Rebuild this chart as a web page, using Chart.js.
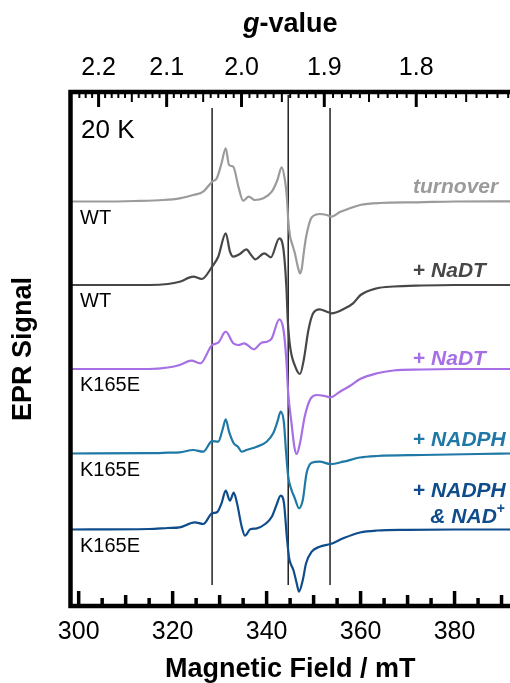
<!DOCTYPE html>
<html>
<head>
<meta charset="utf-8">
<title>EPR spectra, 20 K</title>
<script src="https://cdn.jsdelivr.net/npm/chart.js@4.4.1/dist/chart.umd.min.js"></script>
<style>
  html, body { margin: 0; padding: 0; background: #fff; }
  canvas { display: block; }
</style>
</head>
<body>
<canvas id="eprChart" width="510" height="683"></canvas>
<script>
// axes
const fieldTicks = [300, 320, 340, 360, 380];
const gTicks = [2.2, 2.1, 2.0, 1.9, 1.8];
const mwFreq = 9.368; // GHz
const markerFields = [328.4, 344.6, 353.5];

// samples, stacked top to bottom
const sampleNames = ['WT', 'WT', 'K165E', 'K165E', 'K165E'];
const conditions = [['turnover'], ['+ NaDT'], ['+ NaDT'], ['+ NADPH'], ['+ NADPH', '& NAD⁺']];
const traceOffsets = [404.5, 321, 237, 152.5, 76.5];
const traceColors = ['#9b9b9b', '#474747', '#a66fe6', '#1f78a6', '#0f4c8c'];

// [field / mT, signal / a.u.]
const wtTurnover = [
  [298.2, 0], [305, 0], [312, 0.5], [318, 1.5], [321.5, 3.2], [324.4, 6.5], [326.5, 9.8],
  [328.4, 19.8], [329.4, 23.2], [330.4, 38.2], [331.3, 53.2], [332.0, 36.5], [332.9, 34.8],
  [334.0, 14.8], [335.0, 0.8], [336.2, 4.8], [337.5, 1.5], [339.3, 3.2], [341.1, 9.8],
  [342.3, 21.5], [343.2, 34.2], [343.9, 21.5], [344.3, 5], [344.6, -18.5], [345.0, -35],
  [345.5, -43.5], [346.0, -51.5], [346.6, -64.5], [347.1, -72], [347.5, -66.5], [347.9, -51.5],
  [348.4, -35.5], [348.9, -25], [349.4, -17.5], [349.9, -14.5], [351.3, -12.5], [352.8, -13.5],
  [353.8, -15.2], [355.6, -10.5], [357.7, -6.8], [359.9, -3.5], [364, -1.5], [372, -0.8],
  [380, 0], [392, 0.2]
];
const wtNaDT = [
  [298.2, 0], [315, 0], [319, 1], [321.5, 3.3], [324.4, 8.3], [326.2, 6], [328.4, 18.3],
  [329.7, 28.3], [331.3, 51.7], [332.2, 33.3], [332.9, 28.3], [334.3, 31], [335.7, 35.7],
  [336.7, 30], [337.6, 25.7], [339.5, 31.7], [340.9, 27.7], [342.7, 46.7], [343.6, 35],
  [344.2, -1.7], [344.5, -35], [345.0, -61.7], [346.1, -81.7], [347.1, -89], [347.9, -75],
  [348.9, -45], [349.9, -28.3], [351.3, -24.3], [352.8, -26.7], [353.8, -28.3], [356.3, -24.3],
  [358.4, -18.3], [360, -10], [363.5, -3.3], [367, -1.5], [373, -0.5], [380, 0], [392, 0]
];
const k165eNaDT = [
  [298.2, 0], [315, 0], [319, 1.5], [321.5, 4], [324.0, 8.3], [325.9, 5.7], [328.4, 24],
  [329.7, 26.3], [331.3, 37.3], [332.9, 25.7], [334.0, 24], [335.2, 25.7], [337.3, 19.7],
  [338.9, 26.3], [340.1, 27.3], [341.1, 30.7], [342.7, 49.7], [343.6, 39], [344.2, 9],
  [344.6, -24.3], [345.3, -54.3], [345.9, -77.7], [346.4, -85], [347.1, -74.3], [348.1, -47.7],
  [349.4, -29.3], [350.7, -26], [352.4, -27], [353.6, -28.3], [355.6, -22.7], [357.7, -17],
  [359.9, -10], [363.5, -4.3], [367, -1.5], [373, -0.5], [380, 0], [392, 0]
];
const k165eNADPH = [
  [298.2, 0], [315, 0.3], [319, 0.8], [321.5, 1.2], [324.4, 3.5], [326.5, 1.8], [328.4, 12.3],
  [329.7, 11.8], [330.6, 23.5], [331.3, 34.2], [332.0, 21.8], [333.0, 10.2], [333.9, 6.8],
  [334.7, 1.8], [335.7, 3.5], [337.9, 6.8], [340.0, 11.8], [341.4, 20.2], [342.3, 31.8],
  [343.0, 41.8], [343.7, 30.2], [344.1, 3.5], [344.6, -23.2], [345.3, -36.5], [346.0, -44.8],
  [346.9, -54.8], [347.7, -46.5], [348.5, -19.8], [349.6, -9.2], [351.3, -8.2], [353.6, -10.5],
  [356.3, -8.2], [359.9, -4], [363.5, -2.5], [373, -1.5], [385, -0.5], [392, 0]
];
const k165eNADPHNAD = [
  [298.2, 0], [315, 0.5], [319, 1.5], [321.5, 2.2], [324.7, 7.2], [326.5, 5.5], [328.4, 16.2],
  [329.5, 17.5], [330.4, 26.2], [331.3, 38.8], [332.2, 28.8], [333.0, 36.8], [333.7, 26.2],
  [334.7, 2.8], [335.4, -6.2], [336.5, 0.2], [337.9, 1.2], [339.7, 5.5], [341.1, 12.8],
  [342.1, 24.5], [343.0, 33.8], [343.7, 26.2], [344.3, -7.2], [344.8, -28.8], [345.7, -40.5],
  [346.4, -53.8], [346.9, -62.2], [347.7, -50.5], [348.4, -33.8], [349.6, -22.2], [351.3, -17.2],
  [353.6, -14.5], [356.3, -8.8], [359.9, -3], [363.5, -1], [370, -0.3], [380, 0], [392, 0]
];
const spectra = [wtTurnover, wtNaDT, k165eNaDT, k165eNADPH, k165eNADPHNAD];

const FONT = "'Liberation Sans', Arial, Helvetica, sans-serif";

function gToField(g) {
  return 71.4477 * mwFreq / g;
}

// draw a row of differently styled text pieces
function drawRuns(ctx, runs, x, y, align) {
  let w = 0;
  runs.forEach(r => { ctx.font = r[1]; w += ctx.measureText(r[0]).width; });
  let cx = align === 'center' ? x - w / 2 : align === 'right' ? x - w : x;
  ctx.textAlign = 'left';
  runs.forEach(r => {
    ctx.font = r[1];
    ctx.fillText(r[0], cx, y + (r[2] || 0));
    cx += ctx.measureText(r[0]).width;
  });
}

function conditionRuns(text) {
  const bi = 'italic bold 21px ' + FONT;
  const runs = [];
  let body = text;
  if (body.startsWith('+ ')) {
    runs.push(['+ ', 'bold 21px ' + FONT]);
    body = body.slice(2);
  }
  if (body.endsWith('⁺')) {
    runs.push([body.slice(0, -1), bi]);
    runs.push(['+', 'bold 14px ' + FONT, -8]);
  } else {
    runs.push([body, bi]);
  }
  return runs;
}

const framePlugin = {
  id: 'frame',
  beforeDatasetsDraw(chart) {
    const { ctx, chartArea: a, scales: { x } } = chart;
    const tops = [16, 3, 16];
    ctx.save();
    ctx.strokeStyle = '#222';
    ctx.lineWidth = 1.5;
    markerFields.forEach((f, i) => {
      const px = x.getPixelForValue(f);
      ctx.beginPath();
      ctx.moveTo(px, a.top + tops[i]);
      ctx.lineTo(px, a.bottom - 21);
      ctx.stroke();
    });
    ctx.restore();
  },
  afterDraw(chart) {
    const { ctx, chartArea: a, scales: { x, y } } = chart;
    ctx.save();
    ctx.strokeStyle = '#000';
    ctx.fillStyle = '#000';
    ctx.lineCap = 'butt';

    // frame
    ctx.lineWidth = 4.5;
    ctx.beginPath();
    ctx.moveTo(a.left, a.top - 2);
    ctx.lineTo(a.left, a.bottom + 2);
    ctx.moveTo(a.left - 2, a.top);
    ctx.lineTo(chart.width, a.top);
    ctx.moveTo(a.left - 2, a.bottom);
    ctx.lineTo(chart.width, a.bottom);
    ctx.stroke();

    // field ticks, every 5 mT
    ctx.lineWidth = 3.5;
    for (let f = 300; f <= x.max; f += 5) {
      const len = f % 20 === 0 ? 15 : f % 10 === 0 ? 11 : 8;
      const px = x.getPixelForValue(f);
      ctx.beginPath();
      ctx.moveTo(px, a.bottom);
      ctx.lineTo(px, a.bottom - len);
      ctx.stroke();
    }

    // g-value ticks, every 0.01
    for (let k = 250; k >= 150; k--) {
      const f = gToField(k / 100);
      if (f < x.min + 1 || f > x.max) continue;
      const major = k % 10 === 0;
      const len = major ? 15 : k % 5 === 0 ? 10 : 6;
      ctx.lineWidth = major ? 3 : 2;
      const px = x.getPixelForValue(f);
      ctx.beginPath();
      ctx.moveTo(px, a.top);
      ctx.lineTo(px, a.top + len);
      ctx.stroke();
    }

    // tick labels
    ctx.textBaseline = 'middle';
    ctx.textAlign = 'center';
    ctx.font = '25px ' + FONT;
    fieldTicks.forEach(f => ctx.fillText(String(f), x.getPixelForValue(f), a.bottom + 26));
    gTicks.forEach(g => ctx.fillText(g.toFixed(1), x.getPixelForValue(gToField(g)), a.top - 23.5));

    // axis titles
    const midX = (a.left + a.right) / 2;
    drawRuns(ctx, [['g', 'italic bold 27px ' + FONT], ['-value', 'bold 27px ' + FONT]], midX, 25, 'center');
    ctx.textAlign = 'center';
    ctx.font = 'bold 27px ' + FONT;
    ctx.fillText('Magnetic Field / mT', midX, 670);
    ctx.save();
    ctx.translate(24, (a.top + a.bottom) / 2);
    ctx.rotate(-Math.PI / 2);
    ctx.fillText('EPR Signal', 0, 0);
    ctx.restore();

    // temperature
    ctx.textAlign = 'left';
    ctx.font = '26px ' + FONT;
    ctx.fillText('20 K', 81, 131);

    // sample and condition labels
    const condDy = [-14, -14, -10, -13.5, -38];
    sampleNames.forEach((name, i) => {
      const base = y.getPixelForValue(traceOffsets[i]);
      ctx.fillStyle = '#000';
      ctx.textAlign = 'left';
      ctx.font = '20px ' + FONT;
      ctx.fillText(name, 80, base + 16.5);

      ctx.fillStyle = traceColors[i];
      conditions[i].forEach((line, j) => {
        const ly = base + condDy[i] + j * 25.6;
        if (j === 0) drawRuns(ctx, conditionRuns(line), 413, ly, 'left');
        else drawRuns(ctx, conditionRuns(line), 505, ly, 'right');
      });
    });
    ctx.restore();
  }
};

const datasets = spectra.map((pts, i) => ({
  label: sampleNames[i] + ' ' + conditions[i].join(' '),
  data: pts.map(p => ({ x: p[0], y: p[1] + traceOffsets[i] })),
  borderColor: traceColors[i],
  borderWidth: 2.2,
  pointRadius: 0,
  cubicInterpolationMode: 'monotone',
  fill: false
}));

new Chart(document.getElementById('eprChart'), {
  type: 'line',
  data: { datasets },
  options: {
    responsive: false,
    animation: false,
    devicePixelRatio: 1,
    layout: { padding: { left: 70.5, top: 92, right: 0, bottom: 77 } },
    plugins: {
      legend: { display: false },
      tooltip: { enabled: false }
    },
    scales: {
      x: { type: 'linear', min: 298.26, max: 391.8, display: false },
      y: { type: 'linear', min: 0, max: 514, display: false }
    }
  },
  plugins: [framePlugin]
});
</script>
</body>
</html>
